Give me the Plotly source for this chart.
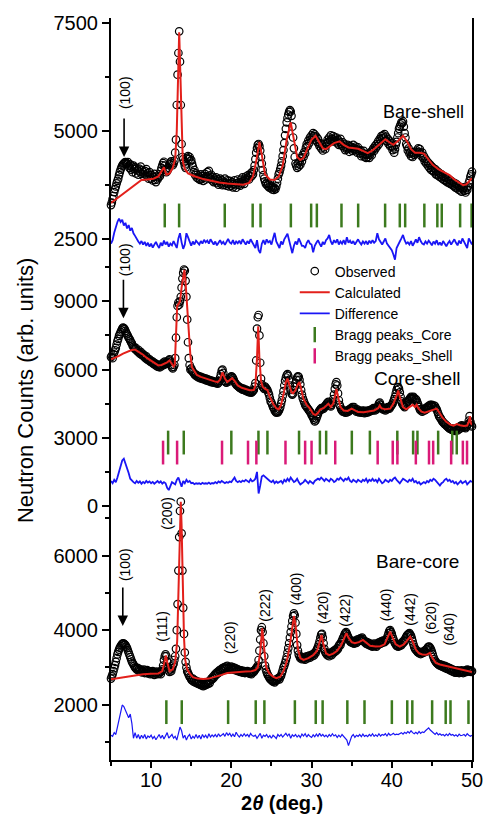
import numpy as np
import plotly.graph_objects as go

FONT = "Liberation Sans, Arial, sans-serif"

# ---------------- sampling grids (instrument steps) ----------------
two_theta = np.round(np.linspace(5, 50, 451), 2)        # observed profile, 0.1 deg step
two_theta_diff = np.round(np.linspace(5, 50, 226), 2)   # difference curve, 0.2 deg step

# ---------------- Bare-shell (top) ----------------
obs_bare_shell = [
    3290, 3350, 3430, 3500, 3590, 3660, 3720, 3790, 3850, 3900,
    3980, 4050, 4110, 4160, 4200, 4230, 4250, 4270, 4280, 4260,
    4240, 4280, 4200, 4150, 4230, 4110, 4180, 4050, 4200, 4120,
    4160, 4020, 4140, 4090, 3990, 4130, 4060, 4180, 4010, 4100,
    4050, 3950, 4080, 4000, 4120, 3960, 4030, 3900, 4050, 3980,
    3900, 3980, 3860, 3940, 4010, 3870, 3820, 3950, 3880, 3930,
    4000, 3960, 4080, 4150, 4210, 4260, 4290, 4200, 4100, 4050,
    4080, 4110, 4150, 4230, 4270, 4300, 4250, 4210, 4250, 4310,
    4500, 4800, 5600, 6300, 6800, 7300, 6600, 5600, 4700, 4400,
    4350, 4280, 4200, 4150, 4250, 4380, 4420, 4350, 4400, 4300,
    4330, 4250, 4180, 4050, 4100, 3980, 4020, 3920, 3990, 3900,
    3950, 3870, 4000, 3900, 3960, 3850, 3920, 4010, 3880, 3960,
    4050, 3950, 4080, 3970, 3900, 3990, 3860, 3940, 3820, 3900,
    3850, 3930, 3800, 3880, 3760, 3850, 3900, 3790, 3870, 3750,
    3830, 3760, 3900, 3800, 3740, 3860, 3780, 3720, 3850, 3790,
    3740, 3820, 3700, 3780, 3860, 3750, 3690, 3800, 3880, 3760,
    3820, 3740, 3880, 3790, 3930, 3850, 3780, 3900, 3950, 3870,
    3920, 3980, 3880, 3960, 4020, 3950, 4050, 4000, 4100, 4200,
    4350, 4500, 4600, 4680, 4700, 4650, 4550, 4400, 4250, 4100,
    3980, 3900, 3840, 3780, 3800, 3740, 3780, 3700, 3760, 3680,
    3720, 3650, 3700, 3640, 3690, 3660, 3720, 3800, 3900, 4000,
    4050, 4120, 4200, 4300, 4420, 4560, 4720, 4900, 5050, 5200,
    5300, 5380, 5440, 5480, 5450, 5350, 5100, 4850, 4600, 4400,
    4250, 4200, 4150, 4250, 4180, 4300, 4220, 4380, 4300, 4450,
    4400, 4520, 4480, 4620, 4700, 4650, 4780, 4720, 4850, 4800,
    4900, 4850, 4950, 4880, 4920, 4800, 4870, 4750, 4820, 4700,
    4650, 4720, 4600, 4680, 4550, 4620, 4700, 4580, 4660, 4720,
    4800, 4750, 4850, 4780, 4900, 4820, 4760, 4880, 4800, 4850,
    4760, 4850, 4720, 4800, 4680, 4750, 4820, 4700, 4660, 4740,
    4620, 4700, 4560, 4640, 4580, 4680, 4600, 4520, 4650, 4580,
    4620, 4540, 4680, 4600, 4560, 4640, 4580, 4500, 4620, 4540,
    4480, 4560, 4420, 4500, 4460, 4540, 4400, 4470, 4380, 4450,
    4400, 4480, 4380, 4460, 4520, 4440, 4560, 4600, 4540, 4650,
    4600, 4700, 4650, 4760, 4700, 4820, 4780, 4880, 4830, 4900,
    4850, 4930, 4780, 4870, 4760, 4820, 4700, 4780, 4650, 4720,
    4640, 4560, 4620, 4500, 4580, 4680, 4750, 4850, 4950, 5050,
    5100, 5150, 5200, 5180, 5220, 5100, 4950, 4850, 4700, 4650,
    4550, 4600, 4480, 4520, 4420, 4480, 4400, 4500, 4450, 4520,
    4480, 4550, 4500, 4600, 4520, 4580, 4480, 4420, 4500, 4380,
    4420, 4300, 4360, 4250, 4300, 4200, 4260, 4150, 4220, 4100,
    4180, 4080, 4140, 4050, 4120, 4000, 4080, 3980, 4050, 3950,
    4020, 3930, 4000, 3900, 3960, 3870, 3940, 3850, 3920, 3820,
    3900, 3800, 3870, 3780, 3850, 3760, 3820, 3730, 3800, 3700,
    3780, 3680, 3750, 3650, 3720, 3630, 3700, 3600, 3680, 3650,
    3700, 3620, 3580, 3680, 3640, 3720, 3800, 3860, 3950, 4000,
    4060]

calc_bare_shell_x = [5.0, 6.0, 7.0, 8.0, 8.8, 9.5, 10.3, 10.9, 11.3, 11.6, 11.9, 12.3, 12.7, 13.0, 13.2,
                     13.35, 13.5, 13.65, 13.8, 13.95, 14.2, 14.6, 15.5, 16.5, 17.5, 18.5, 19.5, 20.5, 21.5, 22.2,
                     22.7, 23.1, 23.5, 23.8, 24.2, 24.8, 25.4, 25.9, 26.4, 26.9, 27.4, 27.8, 28.2, 28.6, 29.0,
                     29.5, 30.0, 30.5, 30.9, 31.4, 31.8, 32.3, 32.8, 33.5, 34.0, 34.6, 35.2, 35.8, 36.4, 37.0,
                     37.6, 38.2, 38.8, 39.2, 39.7, 40.2, 40.7, 41.4, 41.9, 42.4, 42.9, 43.5, 44.0, 44.5, 45.1,
                     45.8, 46.5, 47.2, 47.8, 48.4, 48.9, 49.3, 49.7, 50.0]
calc_bare_shell_y = [3340, 3480, 3620, 3760, 3870, 3880, 3900, 3950, 4060, 4160, 3990, 4020, 4150, 4350, 5000,
                     6300, 7280, 6300, 4900, 4300, 4120, 4020, 3950, 3890, 3850, 3810, 3790, 3770, 3760, 3800,
                     3950, 4300, 4750, 4450, 4000, 3880, 3870, 3950, 4200, 4800, 5200, 4800, 4400, 4330, 4380,
                     4600, 4800, 4890, 4750, 4600, 4580, 4640, 4720, 4760, 4680, 4620, 4600, 4590, 4540, 4490,
                     4550, 4650, 4760, 4810, 4740, 4680, 4760, 4890, 4760, 4580, 4500, 4500, 4480, 4350, 4220,
                     4120, 4050, 3980, 3880, 3800, 3750, 3770, 3840, 3910]

diff_bare_shell = [
    2400, 2480, 2650, 2800, 2900,
    2980, 2900, 2950, 2820, 2880,
    2750, 2830, 2700, 2760, 2640,
    2580, 2500, 2450, 2400, 2460,
    2380, 2440, 2350, 2420, 2330,
    2400, 2310, 2380, 2440, 2360,
    2300, 2420, 2350, 2470, 2380,
    2440, 2330, 2400, 2360, 2460,
    2380, 2300, 2520, 2640, 2430,
    2280, 2380, 2640, 2550, 2430,
    2350, 2450, 2380, 2470, 2420,
    2380, 2460, 2400, 2490, 2430,
    2470, 2400, 2500, 2420, 2380,
    2450, 2360, 2420, 2480, 2400,
    2440, 2370, 2460, 2510, 2430,
    2400, 2480, 2380, 2450, 2410,
    2470, 2390, 2500, 2420, 2380,
    2460, 2400, 2500, 2430, 2370,
    2300, 2480, 2250, 2180, 2400,
    2480, 2380, 2500, 2430, 2460,
    2380, 2520, 2650, 2450, 2380,
    2300, 2450, 2380, 2500, 2560,
    2630, 2480, 2300, 2180, 2350,
    2450, 2380, 2520, 2440, 2350,
    2350, 2300, 2420, 2480, 2400,
    2380, 2200, 2350, 2420, 2480,
    2400, 2330, 2440, 2380, 2480,
    2520, 2600, 2450, 2380, 2480,
    2420, 2500, 2380, 2450, 2400,
    2480, 2380, 2550, 2420, 2470,
    2400, 2460, 2380, 2440, 2500,
    2430, 2380, 2450, 2400, 2460,
    2380, 2470, 2410, 2480, 2420,
    2460, 2640, 2500, 2440, 2380,
    2450, 2520, 2400, 2350, 2300,
    2250, 2150, 2030, 2300, 2400,
    2450, 2520, 2600, 2480, 2400,
    2430, 2380, 2460, 2350, 2420,
    2500, 2420, 2550, 2460, 2400,
    2380, 2450, 2400, 2470, 2420,
    2360, 2450, 2400, 2480, 2370,
    2430, 2360, 2460, 2400, 2340,
    2410, 2460, 2380, 2440, 2500,
    2420, 2360, 2470, 2400, 2520,
    2450, 2380, 2300, 2520, 2440,
    2380]

bragg_bare_shell = [11.70, 13.49, 19.18, 22.66, 23.64, 27.42, 29.95, 30.66, 33.73, 35.81, 39.17, 41.0,
                    41.67, 44.06, 45.68, 46.23, 48.52, 49.95]

# ---------------- Core-shell (middle) ----------------
obs_core_shell = [
    6550, 6620, 6500, 6680, 6750, 6850, 6950, 7100, 7250, 7350,
    7480, 7560, 7650, 7720, 7800, 7850, 7820, 7780, 7700, 7620,
    7550, 7480, 7400, 7350, 7280, 7200, 7150, 7050, 7000, 6950,
    6900, 6950, 6850, 6800, 6870, 6750, 6700, 6780, 6650, 6700,
    6600, 6650, 6550, 6500, 6580, 6450, 6480, 6400, 6450, 6350,
    6380, 6300, 6350, 6250, 6300, 6200, 6250, 6150, 6220, 6120,
    6180, 6100, 6200, 6150, 6250, 6300, 6200, 6350, 6300, 6250,
    6350, 6280, 6400, 6450, 6350, 6200, 6100, 6050, 6120, 6200,
    6500, 7400, 8300, 8800, 8950, 8850, 9000, 9200, 9600, 10000,
    10250, 10400, 10350, 9900, 9200, 8200, 7200, 6500, 6200, 6000,
    6050, 5950, 5900, 5850, 5800, 5750, 5780, 5700, 5720, 5650,
    5700, 5620, 5680, 5600, 5650, 5580, 5620, 5550, 5600, 5520,
    5580, 5500, 5550, 5480, 5520, 5450, 5500, 5430, 5480, 5420,
    5450, 5400, 5460, 5380, 5420, 5500, 5650, 5800, 5950, 6000,
    5850, 5650, 5500, 5450, 5420, 5500, 5550, 5480, 5600, 5650,
    5700, 5680, 5620, 5550, 5450, 5400, 5350, 5300, 5280, 5250,
    5220, 5180, 5200, 5150, 5120, 5160, 5100, 5080, 5120, 5050,
    5080, 5020, 5060, 5000, 5040, 4980, 5020, 5060, 5100, 5250,
    5400, 6400, 7800, 8300, 8400, 7500, 6300, 5600, 5350, 5250,
    5200, 5150, 5250, 5200, 5150, 5100, 5000, 4900, 4750, 4600,
    4550, 4450, 4350, 4300, 4200, 4150, 4100, 4150, 4120, 4180,
    4250, 4350, 4500, 4650, 4850, 5050, 5300, 5500, 5650, 5750,
    5800, 5720, 5550, 5300, 5100, 4950, 4900, 4950, 5100, 5250,
    5400, 5550, 5650, 5700, 5680, 5550, 5350, 5100, 4900, 4750,
    4650, 4550, 4450, 4400, 4350, 4300, 4250, 4200, 4150, 4100,
    4000, 3950, 3880, 3800, 3720, 3760, 3850, 3950, 4050, 4150,
    4200, 4250, 4300, 4250, 4320, 4280, 4350, 4400, 4450, 4500,
    4550, 4580, 4500, 4420, 4380, 4450, 4550, 4700, 4900, 5150,
    5350, 5450, 5300, 4950, 4650, 4450, 4350, 4250, 4200, 4150,
    4200, 4150, 4100, 4180, 4120, 4200, 4150, 4250, 4200, 4300,
    4250, 4350, 4280, 4350, 4250, 4200, 4150, 4250, 4180, 4120,
    4200, 4150, 4100, 4180, 4120, 4200, 4080, 4150, 4100, 4180,
    4120, 4200, 4150, 4220, 4180, 4250, 4200, 4300, 4250, 4200,
    4300, 4250, 4350, 4400, 4500, 4550, 4450, 4350, 4300, 4250,
    4300, 4250, 4200, 4300, 4250, 4350, 4300, 4280, 4350, 4400,
    4450, 4500, 4600, 4700, 4800, 4950, 5100, 5200, 5230, 5150,
    5000, 4800, 4600, 4500, 4450, 4400, 4350, 4450, 4500, 4550,
    4600, 4650, 4700, 4750, 4800, 4750, 4700, 4800, 4750, 4650,
    4700, 4650, 4550, 4450, 4350, 4250, 4200, 4250, 4150, 4200,
    4250, 4200, 4300, 4250, 4350, 4300, 4400, 4350, 4450, 4400,
    4450, 4400, 4350, 4420, 4380, 4300, 4250, 4150, 4050, 3950,
    3900, 3850, 3780, 3720, 3680, 3650, 3600, 3580, 3550, 3500,
    3480, 3450, 3400, 3420, 3380, 3350, 3400, 3320, 3380, 3300,
    3350, 3400, 3320, 3450, 3380, 3500, 3420, 3550, 3480, 3520,
    3450, 3500, 3420, 3480, 3550, 3600, 3750, 3950, 3700, 3550,
    3500]

calc_core_shell_x = [5.0, 5.5, 6.0, 6.5, 7.0, 7.5, 8.0, 8.5, 9.0, 9.5, 10.0, 10.5, 10.9, 11.3, 11.7,
                     12.0, 12.3, 12.6, 12.8, 12.95, 13.1, 13.25, 13.45, 13.6, 13.8, 14.0, 14.15, 14.3, 14.5, 14.7,
                     14.9, 15.1, 15.4, 15.7, 16.2, 16.8, 17.4, 17.9, 18.3, 18.6, 18.9, 19.2, 19.5, 19.8, 20.1,
                     20.4, 20.8, 21.3, 21.8, 22.3, 22.8, 23.0, 23.2, 23.35, 23.5, 23.7, 23.9, 24.2, 24.5, 24.8,
                     25.2, 25.6, 25.9, 26.2, 26.5, 26.8, 27.0, 27.2, 27.5, 27.7, 28.0, 28.3, 28.5, 28.7, 29.0,
                     29.4, 29.8, 30.2, 30.5, 30.8, 31.1, 31.5, 31.9, 32.1, 32.4, 32.7, 32.9, 33.1, 33.3, 33.6,
                     34.0, 34.5, 35.0, 35.4, 35.8, 36.5, 37.2, 37.8, 38.3, 38.5, 38.7, 39.2, 39.8, 40.2, 40.6,
                     40.8, 41.0, 41.4, 41.8, 42.2, 42.6, 42.9, 43.1, 43.3, 43.7, 44.1, 44.6, 45.1, 45.6, 45.9,
                     46.3, 46.8, 47.3, 47.7, 48.1, 48.5, 49.0, 49.4, 49.6, 49.75, 49.85, 50.0]
calc_core_shell_y = [6450, 6520, 6600, 6700, 6790, 6850, 6880, 6780, 6650, 6500, 6380, 6260, 6180, 6200, 6260,
                     6320, 6400, 6260, 6130, 6200, 7600, 8800, 8900, 9000, 9600, 10200, 10380, 9800, 8600, 7500,
                     6600, 6100, 5900, 5760, 5680, 5600, 5540, 5480, 5450, 5550, 5880, 5600, 5450, 5520, 5620,
                     5500, 5300, 5200, 5130, 5090, 5100, 5300, 6500, 7900, 6500, 5500, 5250, 5150, 5100, 4800,
                     4500, 4300, 4250, 4450, 4900, 5450, 5600, 5400, 5000, 4950, 5100, 5350, 5450, 5150, 4700,
                     4450, 4280, 4050, 4000, 4100, 4250, 4300, 4450, 4500, 4350, 4500, 4800, 5150, 4800, 4350,
                     4200, 4180, 4280, 4200, 4130, 4120, 4150, 4200, 4300, 4420, 4300, 4250, 4280, 4500, 4850,
                     5080, 4800, 4350, 4250, 4350, 4450, 4350, 4450, 4300, 4150, 4100, 4150, 4200, 4280, 4120,
                     3900, 3700, 3580, 3530, 3600, 3550, 3520, 3540, 3700, 3950, 3650, 3560]

diff_core_shell = [
    1100, 1000, 1150, 1050, 1250,
    1500, 1800, 2000, 2080, 1900,
    1700, 1450, 1200, 1100, 1050,
    1000, 1100, 1020, 1080, 980,
    1060, 1000, 1100, 1030, 1080,
    1000, 1060, 980, 1050, 1100,
    1020, 1080, 980, 1050, 1000,
    800, 700, 900, 1050, 1000,
    950, 1150, 1250, 1050, 850,
    1100, 1000, 1150, 1050, 1100,
    1000, 1020, 960, 1000, 980,
    1000, 960, 1020, 980, 1000,
    980, 1030, 970, 1010, 990,
    1050, 1000, 1080, 1030, 1100,
    1050, 1000, 1050, 1020, 1080,
    1050, 1150, 1250, 1100, 1050,
    1100, 1050, 1120, 1080, 1150,
    1100, 1050, 1180, 1080, 1120,
    1200, 1500, 550, 900, 1300,
    1350, 1280, 1200, 1150, 1100,
    1050, 1120, 1000, 1080, 1020,
    1050, 1100, 1000, 1150, 1080,
    1200, 1100, 1250, 1150, 1050,
    1100, 1200, 1050, 950, 1000,
    1050, 1150, 1080, 1000, 1100,
    1050, 980, 1100, 1150, 1200,
    1150, 1250, 1180, 1100, 1200,
    1150, 1080, 1200, 1150, 1050,
    1100, 1200, 1150, 1250, 1150,
    1100, 1200, 1150, 1250, 1100,
    1050, 1150, 1100, 1050, 1150,
    1100, 1050, 1150, 1100, 1200,
    1050, 1150, 1100, 1200, 1100,
    1150, 1050, 1200, 1100, 1000,
    1050, 1150, 1100, 1050, 1150,
    1100, 1200, 1250, 1150, 1050,
    1000, 1100, 1200, 1150, 1100,
    1050, 1150, 1100, 1200, 1050,
    1100, 1000, 1050, 950, 1000,
    1050, 1000, 1100, 1050, 1150,
    1100, 1200, 1150, 1050, 950,
    900, 1000, 1050, 1150, 1200,
    1100, 1150, 1050, 1100, 1000,
    1050, 950, 1050, 1100, 1000,
    1050, 1100, 950, 1050, 1100,
    1050]

bragg_core_in_shell = [12.12, 14.07, 20.0, 23.38, 24.5, 28.44, 31.04, 31.82, 35.02, 37.27, 40.69, 42.66,
                       43.2, 45.78, 47.54, 48.1]
bragg_shell_in_shell = [11.49, 13.24, 18.84, 22.08, 23.12, 26.75, 29.2, 30.0, 32.95, 38.24, 40.12, 40.7,
                        43.0, 44.64, 45.16, 47.4, 48.86, 49.38]

# ---------------- Bare-core (bottom) ----------------
obs_bare_core = [
    2700, 2760, 2820, 2900, 2980, 3060, 3150, 3250, 3350, 3420,
    3480, 3530, 3570, 3610, 3630, 3650, 3640, 3620, 3600, 3560,
    3520, 3460, 3400, 3340, 3280, 3220, 3160, 3120, 3080, 3040,
    3000, 2980, 2950, 2990, 2920, 2960, 2900, 2940, 2870, 2920,
    2880, 2940, 2850, 2910, 2860, 2930, 2840, 2900, 2860, 2820,
    2880, 2830, 2900, 2850, 2800, 2870, 2830, 2890, 2820, 2860,
    2830, 2880, 2820, 2900, 2950, 3050, 3200, 3300, 3350, 3300,
    3150, 3000, 2920, 2880, 2950, 2900, 2980, 3050, 3100, 3200,
    3300, 3500, 4000, 4700, 5600, 6500, 7200, 7450, 6600, 5600,
    4600, 3900, 3400, 3150, 3000, 2900, 2850, 2800, 2750, 2720,
    2680, 2650, 2700, 2620, 2660, 2600, 2640, 2580, 2620, 2560,
    2600, 2540, 2580, 2520, 2560, 2500, 2550, 2520, 2580, 2540,
    2600, 2560, 2630, 2580, 2650, 2700, 2680, 2750, 2720, 2800,
    2780, 2850, 2820, 2880, 2850, 2920, 2880, 2950, 2920, 2980,
    2950, 3000, 2960, 3020, 2980, 3040, 2960, 3000, 2940, 2980,
    3020, 2960, 3000, 2940, 2990, 2930, 2970, 2910, 2950, 2900,
    2930, 2880, 2920, 2870, 2910, 2860, 2900, 2850, 2890, 2860,
    2900, 2850, 2880, 2830, 2870, 2820, 2860, 2900, 2880, 2920,
    2950, 2980, 3000, 3050, 3200, 3450, 3750, 4000, 4080, 3950,
    3650, 3300, 3050, 2950, 2880, 2820, 2780, 2740, 2700, 2680,
    2660, 2640, 2620, 2650, 2600, 2640, 2680, 2660, 2700, 2720,
    2680, 2740, 2780, 2850, 2920, 3000, 3050, 3120, 3200, 3280,
    3400, 3520, 3650, 3800, 3950, 4100, 4250, 4380, 4450, 4400,
    4200, 3900, 3600, 3450, 3350, 3300, 3250, 3280, 3220, 3260,
    3230, 3280, 3210, 3260, 3300, 3240, 3290, 3320, 3260, 3300,
    3340, 3300, 3360, 3320, 3400, 3380, 3450, 3500, 3550, 3620,
    3700, 3800, 3880, 3900, 3800, 3650, 3500, 3420, 3380, 3350,
    3320, 3380, 3300, 3350, 3400, 3330, 3420, 3380, 3450, 3420,
    3480, 3450, 3520, 3500, 3580, 3620, 3600, 3680, 3720, 3780,
    3820, 3880, 3920, 3950, 3900, 3850, 3800, 3750, 3700, 3680,
    3720, 3660, 3700, 3640, 3680, 3720, 3660, 3750, 3700, 3760,
    3720, 3780, 3740, 3800, 3760, 3720, 3680, 3700, 3640, 3680,
    3620, 3660, 3600, 3640, 3580, 3620, 3560, 3600, 3640, 3580,
    3620, 3560, 3600, 3660, 3620, 3680, 3640, 3700, 3660, 3720,
    3700, 3680, 3740, 3720, 3780, 3850, 3920, 3980, 4000, 3950,
    3900, 3820, 3760, 3700, 3650, 3620, 3580, 3600, 3560, 3620,
    3580, 3640, 3600, 3680, 3650, 3720, 3700, 3780, 3820, 3860,
    3880, 3900, 3920, 3880, 3850, 3780, 3700, 3620, 3550, 3500,
    3480, 3450, 3420, 3400, 3380, 3420, 3360, 3400, 3380, 3420,
    3400, 3450, 3420, 3480, 3500, 3540, 3560, 3550, 3520, 3480,
    3420, 3350, 3280, 3220, 3180, 3150, 3120, 3100, 3080, 3060,
    3080, 3040, 3070, 3020, 3050, 3000, 3040, 2980, 3020, 2960,
    3000, 2950, 2980, 2920, 2960, 2900, 2940, 2880, 2920, 2860,
    2900, 2860, 2920, 2880, 2850, 2900, 2860, 2920, 2880, 2850,
    2900, 2870, 2920, 2880, 2940, 2900, 2930, 2890, 2920, 2880,
    2900]

calc_bare_core_x = [5.0, 6.0, 7.0, 8.0, 9.0, 10.0, 10.9, 11.4, 11.7, 11.85, 12.0, 12.3, 12.7, 13.0, 13.25,
                    13.45, 13.6, 13.7, 13.8, 13.95, 14.1, 14.25, 14.5, 14.8, 15.2, 15.8, 16.5, 17.2, 18.0, 18.8,
                    19.5, 20.2, 21.0, 21.8, 22.5, 23.0, 23.3, 23.6, 23.85, 24.1, 24.35, 24.7, 25.2, 25.6, 26.1,
                    26.5, 26.9, 27.3, 27.6, 27.8, 28.0, 28.3, 28.6, 29.0, 29.6, 30.2, 30.7, 31.0, 31.25, 31.5,
                    31.8, 32.2, 32.7, 33.2, 33.7, 34.1, 34.35, 34.6, 35.0, 35.4, 35.9, 36.4, 36.8, 37.3, 38.0,
                    38.6, 39.1, 39.5, 39.8, 40.1, 40.5, 41.0, 41.5, 41.9, 42.3, 42.6, 43.0, 43.4, 43.8, 44.3,
                    44.75, 45.1, 45.5, 46.0, 46.6, 47.2, 47.8, 48.5, 49.2, 50.0]
calc_bare_core_y = [2680, 2720, 2760, 2800, 2820, 2830, 2840, 2900, 3150, 3320, 3150, 2900, 2950, 3150, 3700,
                    5300, 6800, 7450, 6800, 5000, 3800, 3200, 2950, 2840, 2740, 2700, 2690, 2700, 2740, 2800,
                    2850, 2870, 2880, 2890, 2900, 2930, 3000, 3400, 4050, 3500, 3000, 2850, 2750, 2710, 2750,
                    2900, 3150, 3600, 4100, 4380, 4150, 3500, 3250, 3200, 3250, 3330, 3450, 3650, 3870, 3600,
                    3380, 3330, 3370, 3450, 3600, 3800, 3920, 3800, 3680, 3650, 3680, 3740, 3660, 3580, 3560,
                    3570, 3620, 3800, 3960, 3800, 3620, 3560, 3620, 3720, 3830, 3700, 3480, 3380, 3350, 3340,
                    3390, 3250, 3120, 3080, 3050, 3020, 2980, 2950, 2920, 2880]

diff_bare_core = [
    1180, 1150, 1250, 1200, 1400,
    1600, 1800, 1990, 1950, 1850,
    1700, 1650, 1750, 1500, 1100,
    1250, 1100, 1200, 1080, 1180,
    1100, 1200, 1080, 1160, 1120,
    1180, 1090, 1150, 1060, 1130,
    1200, 1100, 1180, 1080, 1150,
    1250, 1100, 1150, 1200, 1100,
    1150, 1050, 1250, 1400, 1300,
    1100, 1180, 1050, 1150, 1200,
    1080, 1150, 1100, 1200, 1100,
    1180, 1080, 1200, 1120, 1180,
    1100, 1220, 1130, 1190, 1140,
    1200, 1130, 1220, 1150, 1180,
    1220, 1150, 1250, 1180, 1230,
    1150, 1210, 1140, 1260, 1180,
    1130, 1200, 1150, 1220, 1160,
    1200, 1140, 1230, 1170, 1150,
    1180, 1100, 1150, 1230, 1100,
    1180, 1150, 1200, 1120, 1170,
    1100, 1180, 1140, 1090, 1200,
    1150, 1200, 1130, 1180, 1230,
    1160, 1220, 1100, 1190, 1150,
    1200, 1130, 1180, 1120, 1210,
    1160, 1220, 1130, 1200, 1150,
    1120, 1190, 1140, 1210, 1150,
    1230, 1160, 1200, 1140, 1180,
    1130, 1200, 1150, 1220, 1160,
    1190, 1120, 1180, 1130, 1200,
    1150, 1100, 1050, 900, 1050,
    1150, 1200, 1120, 1180, 1150,
    1200, 1140, 1210, 1150, 1180,
    1140, 1200, 1160, 1220, 1150,
    1190, 1150, 1220, 1160, 1200,
    1180, 1220, 1160, 1230, 1180,
    1200, 1230, 1190, 1210, 1200,
    1220, 1250, 1210, 1260, 1230,
    1280, 1240, 1300, 1250, 1220,
    1260, 1220, 1280, 1230, 1270,
    1250, 1300, 1330, 1380, 1320,
    1280, 1230, 1200, 1250, 1190,
    1220, 1180, 1200, 1160, 1210,
    1170, 1230, 1180, 1200, 1160,
    1190, 1150, 1210, 1170, 1180,
    1200, 1160, 1220, 1180, 1150,
    1180]

bragg_bare_core = [11.9, 13.82, 19.6, 23.04, 24.12, 27.92, 30.52, 31.38, 34.46, 36.6, 40.01, 41.93, 42.56,
                   45.03, 46.72, 47.32, 49.56]

# vertical levels (counts) at which each row of Bragg markers sits
bragg_level_top = 3050
bragg_level_mid_core = 2790
bragg_level_mid_shell = 2350
bragg_level_bottom = 1800

# hkl labels of the bare-core pattern
hkl_text = ["(100)", "(111)", "(200)", "(220)", "(222)", "(400)", "(420)", "(422)", "(440)", "(442)",
            "(620)", "(640)"]
hkl_x = [6.76, 11.33, 11.95, 19.84, 24.17, 28.1, 31.43, 34.13, 39.32, 42.23, 44.93, 47.09]
hkl_y = [5751, 4113, 7147, 3791, 4677, 5107, 4596, 4543, 4677, 4569, 4328, 4033]

# ---------------- styling ----------------
RED = "#E3201B"
BLUE = "#1A16F5"
GREEN = "#3C7A1E"
PINK = "#DA1A78"


def fit(x, y):
    n = min(len(x), len(y))
    return list(x[:n]), list(y[:n])


fig = go.Figure()


def add_panel(yref, obs, cx, cy, diff, show, dwidth):
    ox, oy = fit(two_theta, obs)
    fig.add_trace(go.Scatter(x=ox, y=oy, mode="markers", yaxis=yref, name="Observed", showlegend=show,
                             legendrank=1, cliponaxis=False,
                             marker=dict(symbol="circle-open", size=7.5, color="black", line=dict(width=1.2))))
    lx, ly = fit(cx, cy)
    fig.add_trace(go.Scatter(x=lx, y=ly, mode="lines", yaxis=yref, name="Calculated", showlegend=show,
                             legendrank=2, line=dict(color=RED, width=2)))
    dx, dy = fit(two_theta_diff, diff)
    fig.add_trace(go.Scatter(x=dx, y=dy, mode="lines", yaxis=yref, name="Difference", showlegend=show,
                             legendrank=3, line=dict(color=BLUE, width=dwidth)))


def add_bragg(yref, pos, level, color):
    fig.add_trace(go.Scatter(x=pos, y=[level] * len(pos), mode="markers", yaxis=yref, showlegend=False,
                             marker=dict(symbol="line-ns", size=17, color=color,
                                         line=dict(color=color, width=2.5))))


def add_bragg_legend(name, color, rank):
    fig.add_trace(go.Scatter(x=[None], y=[None], mode="markers", yaxis="y2", name=name, legendrank=rank,
                             marker=dict(symbol="line-ns", size=11, color=color,
                                         line=dict(color=color, width=2.5))))


add_panel("y", obs_bare_shell, calc_bare_shell_x, calc_bare_shell_y, diff_bare_shell, False, 1.8)
add_bragg("y", bragg_bare_shell, bragg_level_top, GREEN)

add_panel("y2", obs_core_shell, calc_core_shell_x, calc_core_shell_y, diff_core_shell, True, 1.8)
add_bragg("y2", bragg_core_in_shell, bragg_level_mid_core, GREEN)
add_bragg("y2", bragg_shell_in_shell, bragg_level_mid_shell, PINK)
add_bragg_legend("Bragg peaks_Core", GREEN, 4)
add_bragg_legend("Bragg peaks_Shell", PINK, 5)

add_panel("y3", obs_bare_core, calc_bare_core_x, calc_bare_core_y, diff_bare_core, False, 1.2)
add_bragg("y3", bragg_bare_core, bragg_level_bottom, GREEN)

tickfont = dict(family=FONT, size=20, color="black")
axis_common = dict(showline=True, linewidth=2, linecolor="black", ticks="outside", ticklen=7,
                   tickwidth=2, tickcolor="black", showgrid=False, zeroline=False, tickfont=tickfont)


def yax(domain, rng, dtick):
    d = dict(axis_common)
    d.update(domain=domain, range=rng, dtick=dtick, tick0=0, anchor="x", mirror=True, tickformat="d",
             minor=dict(dtick=dtick / 2, tick0=0, ticks="outside", ticklen=4, tickwidth=2,
                        tickcolor="black"))
    return d


def yax_right(over, rng, dtick):
    return dict(overlaying=over, side="right", anchor="x", range=rng, dtick=dtick, tick0=0,
                showline=False, showgrid=False, zeroline=False, showticklabels=False,
                ticks="inside", ticklen=7, tickwidth=2, tickcolor="black",
                minor=dict(dtick=dtick / 2, tick0=0, ticks="inside", ticklen=4, tickwidth=2,
                           tickcolor="black"))


R_TOP = [1861, 7608]
R_MID = [-44, 10510]
R_BOT = [515, 7549]

xax = dict(axis_common)
xax.update(range=[5, 50], domain=[0, 1], anchor="y3", dtick=10, tick0=0, ticklen=6, ticklabelstandoff=-5,
           minor=dict(dtick=5, tick0=0, ticks="outside", ticklen=4, tickwidth=2, tickcolor="black"))

fig.update_layout(
    width=486, height=816,
    margin=dict(l=111, r=14, t=18, b=56, autoexpand=False),
    paper_bgcolor="white", plot_bgcolor="rgba(0,0,0,0)",
    font=dict(family=FONT, color="black"),
    xaxis=xax,
    xaxis2=dict(overlaying="x", anchor="y", side="top", range=[5, 50], dtick=10, tick0=0,
                showline=True, linewidth=2, linecolor="black", showgrid=False, zeroline=False,
                showticklabels=False, ticks="inside", ticklen=6, tickwidth=2, tickcolor="black",
                minor=dict(dtick=5, tick0=0, ticks="inside", ticklen=4, tickwidth=2, tickcolor="black")),
    yaxis=yax([0.66442, 1.0], R_TOP, 2500),
    yaxis2=yax([0.34097, 0.66442], R_MID, 3000),
    yaxis3=yax([0.0, 0.35310], R_BOT, 2000),
    yaxis4=yax_right("y", R_TOP, 2500),
    yaxis5=yax_right("y2", R_MID, 3000),
    yaxis6=yax_right("y3", R_BOT, 2000),
    showlegend=True,
    legend=dict(x=0.509, y=0.68, xanchor="left", yanchor="top", bgcolor="rgba(0,0,0,0)",
                font=dict(family=FONT, size=14, color="black"), tracegroupgap=0, itemwidth=30,
                traceorder="normal"),
)

annotations = []
# y-axis title
annotations.append(dict(xref="paper", yref="paper", x=-0.2382, y=0.4973, text="Neutron Counts (arb. units)",
                        textangle=-90, showarrow=False, font=dict(family=FONT, size=22, color="black"),
                        xanchor="center", yanchor="middle"))
# x-axis title
annotations.append(dict(xref="paper", yref="paper", x=0.4737, y=-0.058, text="<b>2<i>θ</i> (deg.)</b>",
                        showarrow=False, font=dict(family=FONT, size=20, color="black"),
                        xanchor="center", yanchor="middle"))
# sample names
annotations.append(dict(xref="x", yref="y", x=49.25, y=5438, text="Bare-shell", showarrow=False,
                        xanchor="right", yanchor="middle", font=dict(family=FONT, size=18, color="black")))
annotations.append(dict(xref="x", yref="y2", x=48.87, y=5622, text="Core-shell", showarrow=False,
                        xanchor="right", yanchor="middle", font=dict(family=FONT, size=19, color="black")))
annotations.append(dict(xref="x", yref="y3", x=48.63, y=5840, text="Bare-core", showarrow=False,
                        xanchor="right", yanchor="middle", font=dict(family=FONT, size=19, color="black")))
# (100) labels of top and middle panels
annotations.append(dict(xref="x", yref="y", x=6.76, y=5877, text="(100)", textangle=-90, showarrow=False,
                        font=dict(family=FONT, size=14, color="black")))
annotations.append(dict(xref="x", yref="y", x=6.76, y=2022, text="(100)", textangle=-90, showarrow=False,
                        font=dict(family=FONT, size=14, color="black")))
# hkl labels bottom panel
for t, hx, hy in zip(hkl_text, hkl_x, hkl_y):
    annotations.append(dict(xref="x", yref="y3", x=hx, y=hy, text=t, textangle=-90, showarrow=False,
                            font=dict(family=FONT, size=14, color="black")))
# arrows marking (100)
for yr, ax_x, tip in (("y", 6.63, 4400), ("y2", 6.55, 8257), ("y3", 6.47, 4113)):
    annotations.append(dict(xref="x", yref=yr, x=ax_x, y=tip, ax=0, ay=-40, text="", showarrow=True,
                            arrowhead=2, arrowsize=1.3, arrowwidth=1.6, arrowcolor="black"))

fig.update_layout(annotations=annotations)

fig.write_html("out.html", config={"displayModeBar": False},
               post_script="document.body.style.margin='0';document.body.style.overflow='hidden';")
